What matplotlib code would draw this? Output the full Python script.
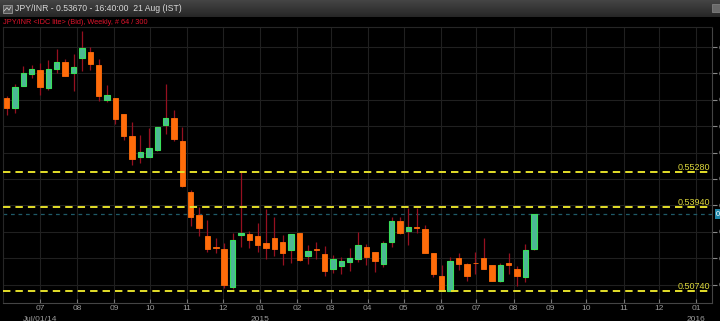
import numpy as np
import pandas as pd
import matplotlib
matplotlib.use("Agg")
import matplotlib.pyplot as plt
import matplotlib.dates as mdates
from matplotlib.patches import Rectangle

plt.rcParams['font.family'] = ['Liberation Sans', 'DejaVu Sans']

# weekly JPY/INR candles, 64 bars
week_start = "2014-06-03"
opens = [0.5806, 0.5768, 0.5852, 0.5897, 0.5914, 0.5843, 0.5916, 0.5944, 0.5901, 0.5959,
         0.5981, 0.5932, 0.5799, 0.5806, 0.5747, 0.5663, 0.5584, 0.5585, 0.5608, 0.5703,
         0.5732, 0.5644, 0.5451, 0.5363, 0.5284, 0.5243, 0.5233, 0.5091, 0.5289, 0.5291,
         0.5282, 0.5257, 0.5275, 0.5261, 0.5232, 0.5294, 0.5209, 0.5234, 0.5214, 0.5159,
         0.5172, 0.5187, 0.5197, 0.5242, 0.5222, 0.5178, 0.5262, 0.5339, 0.5304, 0.5318,
         0.5310, 0.5219, 0.5132, 0.5076, 0.5199, 0.5176, 0.5182, 0.5199, 0.5173, 0.5114,
         0.5182, 0.5157, 0.5127, 0.5233]
highs = [0.5815, 0.5861, 0.5927, 0.5932, 0.5941, 0.5949, 0.5992, 0.5954, 0.5975, 0.6062,
         0.6000, 0.5956, 0.5856, 0.5806, 0.5747, 0.5715, 0.5666, 0.5695, 0.5697, 0.5861,
         0.5762, 0.5697, 0.5457, 0.5395, 0.5346, 0.5276, 0.5256, 0.5295, 0.5529, 0.5304,
         0.5335, 0.5386, 0.5356, 0.5287, 0.5290, 0.5296, 0.5248, 0.5263, 0.5246, 0.5211,
         0.5203, 0.5237, 0.5299, 0.5252, 0.5222, 0.5266, 0.5357, 0.5357, 0.5390, 0.5390,
         0.5325, 0.5219, 0.5175, 0.5206, 0.5219, 0.5180, 0.5224, 0.5278, 0.5175, 0.5182,
         0.5219, 0.5172, 0.5252, 0.5367]
lows = [0.5743, 0.5749, 0.5851, 0.5881, 0.5820, 0.5839, 0.5901, 0.5891, 0.5833, 0.5911,
        0.5914, 0.5796, 0.5792, 0.5710, 0.5646, 0.5554, 0.5559, 0.5582, 0.5607, 0.5671,
        0.5642, 0.5468, 0.5323, 0.5284, 0.5224, 0.5218, 0.5085, 0.5082, 0.5242, 0.5239,
        0.5224, 0.5197, 0.5209, 0.5173, 0.5182, 0.5190, 0.5176, 0.5197, 0.5134, 0.5142,
        0.5138, 0.5153, 0.5185, 0.5175, 0.5148, 0.5165, 0.5242, 0.5292, 0.5249, 0.5294,
        0.5218, 0.5128, 0.5074, 0.5074, 0.5156, 0.5114, 0.5139, 0.5157, 0.5112, 0.5108,
        0.5139, 0.5094, 0.5108, 0.5229]
closes = [0.5768, 0.5848, 0.5901, 0.5916, 0.5847, 0.5918, 0.5944, 0.5892, 0.5924, 0.5997,
          0.5935, 0.5815, 0.5819, 0.5727, 0.5661, 0.5576, 0.5601, 0.5616, 0.5697, 0.5732,
          0.5651, 0.5475, 0.5357, 0.5316, 0.5235, 0.5239, 0.5100, 0.5268, 0.5295, 0.5270,
          0.5249, 0.5239, 0.5235, 0.5218, 0.5290, 0.5192, 0.5227, 0.5232, 0.5153, 0.5196,
          0.5189, 0.5200, 0.5248, 0.5205, 0.5190, 0.5258, 0.5342, 0.5297, 0.5318, 0.5316,
          0.5220, 0.5139, 0.5076, 0.5189, 0.5176, 0.5134, 0.5180, 0.5158, 0.5114, 0.5173,
          0.5173, 0.5132, 0.5232, 0.5367]

levels = [0.55280, 0.53940, 0.50740]
level_labels = ["0.55280", "0.53940", "0.50740"]
last_price = 0.53670

title = "JPY/INR - 0.53670 - 16:40:00  21 Aug (IST)"
subtitle = "JPY/INR <IDC lite> (Bid), Weekly, # 64 / 300"

dates = pd.date_range(week_start, periods=len(opens), freq="7D")
x = mdates.date2num(dates)
o = np.array(opens)
h = np.array(highs)
l = np.array(lows)
c = np.array(closes)
up = c >= o

W, H = 720, 321
fig = plt.figure(figsize=(W / 100, H / 100), dpi=100, facecolor="black")

# title bar
bar = fig.add_axes([0, 1 - 17 / H, 1, 17 / H])
grad = np.linspace(0.27, 0.15, 50).reshape(-1, 1)
bar.imshow(np.dstack([grad, grad, grad]), aspect="auto", extent=[0, 1, 0, 1])
bar.set_xlim(0, 1)
bar.set_ylim(0, 1)
bar.axis("off")
bar.add_patch(Rectangle((3 / W, 0.25), 9 / W, 0.45, facecolor="#555555", edgecolor="#999999", lw=0.6))
bar.plot([4 / W, 7 / W, 9 / W, 11 / W], [0.35, 0.55, 0.4, 0.6], color="#dddddd", lw=0.5)
bar.add_patch(Rectangle((712 / W, 0.3), 8 / W, 0.45, facecolor="#6a6a6a", edgecolor="#888888", lw=0.5))
bar.text(15 / W, 0.5, title, color="#d8d8d8", fontsize=6.2, va="center", ha="left")

fig.text(3 / W, 1 - 22 / H, subtitle, color="#e0142c", fontsize=5.3, va="center", ha="left")

ax = fig.add_axes([3 / W, 1 - 303 / H, 709 / W, (303 - 26.7) / H])
ax.set_facecolor("black")

# wicks then bodies
ax.vlines(x, l, h, color="#961020", lw=0.9, zorder=3)
body_w = 4.5
bottoms = np.minimum(o, c)
heights = np.maximum(np.abs(c - o), 0.00015)
ax.bar(x[up], heights[up], bottom=bottoms[up], width=body_w,
       color="#4cb896", edgecolor="#39e05a", lw=0.8, zorder=4)
ax.bar(x[~up], heights[~up], bottom=bottoms[~up], width=body_w,
       color="#ff6c0a", edgecolor="#ff6c0a", lw=0.6, zorder=4)

for lv, lab in zip(levels, level_labels):
    ax.axhline(lv, color="#e4df2a", lw=1.4, linestyle=(0, (3.8, 2.6)), zorder=5)
    ax.text(0.998, lv, lab, transform=ax.get_yaxis_transform(), ha="right", va="bottom",
            color="#dcd83c", fontsize=6.5, zorder=6)

ax.axhline(last_price, color="#1f5a68", lw=0.9, linestyle=(0, (3, 3)), zorder=2)
ax.annotate("0.53670", xy=(1, last_price), xycoords=("axes fraction", "data"),
            xytext=(3, 0), textcoords="offset points", va="center", ha="left",
            color="white", fontsize=5.5, annotation_clip=False,
            bbox=dict(boxstyle="square,pad=0.2", facecolor="#1f86a8", edgecolor="none"))

ax.set_xlim(mdates.date2num(pd.Timestamp("2014-05-31")), mdates.date2num(pd.Timestamp("2016-01-14")))
ax.set_ylim(0.5030, 0.6077)

months = pd.date_range("2014-07-01", "2016-01-01", freq="MS")
labels = []
for m in months:
    s = m.strftime("%m")
    if m == months[0]:
        s += "\nJul/01/14"
    elif m.month == 1:
        s += "\n" + str(m.year)
    labels.append(s)
ax.set_xticks(mdates.date2num(months))
ax.set_xticklabels(labels, linespacing=1.7)
ax.tick_params(axis="x", direction="in", length=3, color="#777777", labelcolor="#9a9a9a",
               labelsize=6, pad=1.8)

ax.yaxis.tick_right()
ax.set_yticks(np.arange(0.51, 0.605, 0.01))
ax.set_yticklabels([f"{v:.2f}" for v in np.arange(0.51, 0.605, 0.01)])
ax.tick_params(axis="y", direction="out", length=3.5, color="#888888", labelcolor="#9a9a9a",
               labelsize=6, pad=1)

ax.grid(True, color="#202020", lw=0.8, zorder=0)
ax.set_axisbelow(True)
for side in ["left", "top"]:
    ax.spines[side].set_color("#262626")
for side in ["right", "bottom"]:
    ax.spines[side].set_color("#444444")
for sp in ax.spines.values():
    sp.set_linewidth(0.8)

fig.savefig("out.png", dpi=100, facecolor="black")
